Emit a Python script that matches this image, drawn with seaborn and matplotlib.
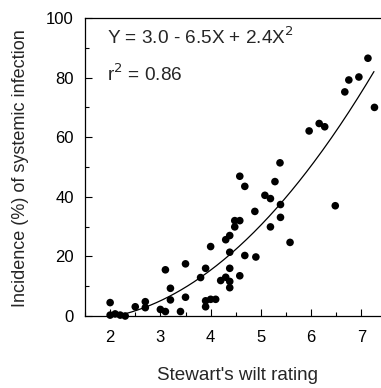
import numpy as np
import matplotlib
matplotlib.use("Agg")
import matplotlib.pyplot as plt
import seaborn as sns
from matplotlib.ticker import MultipleLocator

# Stewart's wilt rating vs incidence of systemic infection (%)
wilt_rating = [2.0, 2.0, 2.1, 2.2, 2.3, 2.5, 2.7, 2.7, 3.0, 3.1,
               3.1, 3.2, 3.2, 3.4, 3.5, 3.5, 3.8, 3.9, 3.9, 3.9,
               4.0, 4.0, 4.1, 4.2, 4.3, 4.3, 4.38, 4.38, 4.38, 4.38,
               4.38, 4.48, 4.48, 4.58, 4.58, 4.58, 4.68, 4.68, 4.88, 4.9,
               5.08, 5.19, 5.19, 5.28, 5.38, 5.39, 5.39, 5.58, 5.96, 6.16,
               6.27, 6.48, 6.67, 6.75, 6.95, 7.13, 7.26]
incidence = [4.5, 0.3, 0.7, 0.3, 0.0, 3.1, 4.8, 2.8, 2.2, 1.5,
             15.5, 9.3, 5.4, 1.5, 17.5, 6.3, 12.9, 16.0, 3.1, 5.1,
             23.3, 5.6, 5.6, 11.9, 25.6, 13.0, 27.0, 21.4, 16.0, 11.6,
             9.5, 29.9, 32.0, 32.0, 46.9, 13.5, 43.5, 20.3, 35.1, 19.8,
             40.5, 39.4, 29.9, 45.1, 51.4, 37.4, 33.1, 24.7, 62.1, 64.6,
             63.5, 37.0, 75.2, 79.2, 80.2, 86.5, 70.0]

# quadratic fit shown on the chart
coef = [3.0, -6.5, 2.4]
fit_range = [2.3, 7.25]

sns.set_style("ticks")
plt.rcParams['font.family'] = ['Liberation Sans', 'DejaVu Sans']

fig = plt.figure(figsize=(3.81, 3.88), dpi=100)
ax = fig.add_axes([85 / 381, 72 / 388, 296 / 381, 298 / 388])

sns.scatterplot(x=wilt_rating, y=incidence, color="black", s=30,
                edgecolor="none", ax=ax, clip_on=False, zorder=3)

xs = np.linspace(fit_range[0], fit_range[1], 200)
ys = coef[0] + coef[1] * xs + coef[2] * xs ** 2
sns.lineplot(x=xs, y=ys, color="black", linewidth=0.9, ax=ax)

ax.set_xlim(1.5, 7.39)
ax.set_ylim(0, 100)
ax.xaxis.set_major_locator(MultipleLocator(1))
ax.xaxis.set_minor_locator(MultipleLocator(0.5))
ax.yaxis.set_major_locator(MultipleLocator(20))
ax.yaxis.set_minor_locator(MultipleLocator(10))
ax.tick_params(which="both", direction="in", width=0.8, labelsize=12, colors="black")
ax.tick_params(which="major", length=5, pad=10)
ax.tick_params(which="minor", length=3)
ax.tick_params(axis="y", which="major", pad=8)

for side in ["left", "bottom", "top"]:
    ax.spines[side].set_linewidth(0.9)
    ax.spines[side].set_color("black")
ax.spines["right"].set_visible(False)

ax.set_xlabel("Stewart's wilt rating", fontsize=13.6)
ax.set_ylabel("Incidence (%) of systemic infection", fontsize=13)
ax.xaxis.set_label_coords((237.5 - 85) / 296, -(367 - 316) / 298)
ax.yaxis.set_label_coords(-(85 - 29) / 296, (316 - 168) / 298)

ax.text(0.075, 0.935, "Y = 3.0 - 6.5X + 2.4X$^2$", transform=ax.transAxes,
        fontsize=13.7, va="center", ha="left")
ax.text(0.075, 0.81, "r$^2$ = 0.86", transform=ax.transAxes,
        fontsize=13.7, va="center", ha="left")

fig.savefig("out.png", dpi=100)
